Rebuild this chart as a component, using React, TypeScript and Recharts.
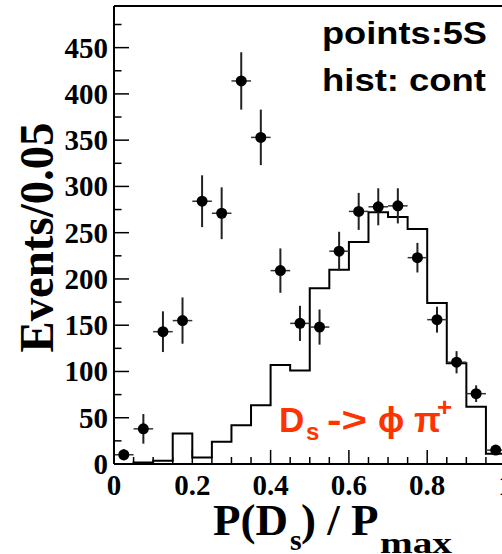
import React from "react";
import { ComposedChart, Customized, ErrorBar, Line, ReferenceLine, Scatter, XAxis, YAxis } from "recharts";

// 20 bins of width 0.05 in P(Ds)/Pmax
const binCenters = [
  0.025, 0.075, 0.125, 0.175, 0.225, 0.275, 0.325, 0.375, 0.425, 0.475,
  0.525, 0.575, 0.625, 0.675, 0.725, 0.775, 0.825, 0.875, 0.925, 0.975,
];
// 5S data points and their errors
const dataCounts = [10, 38, 143, 155, 284, 271, 414, 353, 209, 152, 148, 230, 273, 278, 279, 223, 156, 110, 76, 15];
const dataErrors = [6, 16, 22, 25, 28, 28, 31, 30, 24, 19, 19, 21, 20, 20, 19, 16, 14, 12, 9, 5];
// continuum histogram
const contHist = [0, 1.5, 3.5, 33, 7, 24, 42, 63.5, 107, 101, 190, 210, 240, 272, 267, 254, 174, 109, 62, 11];

const binWidth = 0.05;
const yMax = 495;
const yTicks = [0, 25, 50, 75, 100, 125, 150, 175, 200, 225, 250, 275, 300, 325, 350, 375, 400, 425, 450, 475];
const xTicks = [0, 0.05, 0.1, 0.15, 0.2, 0.25, 0.3, 0.35, 0.4, 0.45, 0.5, 0.55, 0.6, 0.65, 0.7, 0.75, 0.8, 0.85, 0.9, 0.95, 1];
const xLabeled = [0, 0.2, 0.4, 0.6, 0.8, 1];

const points = binCenters.map((x, i) => ({ x, y: dataCounts[i], ey: dataErrors[i], ex: binWidth / 2 }));
const histSteps = [
  ...binCenters.map((c, i) => ({ x: +(c - binWidth / 2).toFixed(3), y: contHist[i] })),
  { x: 1, y: contHist[contHist.length - 1] },
];

const serifBold = { fontFamily: "'Liberation Serif', 'Times New Roman', serif", fontWeight: 700, fill: "#000" };
const sansBold = { fontFamily: "'Liberation Sans', Arial, sans-serif", fontWeight: 700 };
const red = "#ff3300";

// ticks point inwards; tickSize/tickMargin are 0 so x,y sit on the axis line
const YTick = ({ x, y, payload }: any) => {
  const major = payload.value % 50 === 0;
  return (
    <g>
      <line x1={x} x2={x + (major ? 15 : 7.5)} y1={y} y2={y} stroke="#000" strokeWidth={1.5} />
      {major && (
        <text x={x - 6} y={y + 10} textAnchor="end" fontSize={29} style={serifBold}>
          {payload.value}
        </text>
      )}
    </g>
  );
};

const XTick = ({ x, y, payload }: any) => {
  const major = xLabeled.some((m) => Math.abs(m - payload.value) < 1e-6);
  return (
    <g>
      <line x1={x} x2={x} y1={y} y2={y - (major ? 14 : 7)} stroke="#000" strokeWidth={1.5} />
      {major && (
        <text x={x} y={y + 30.5} textAnchor="middle" fontSize={29} style={serifBold}>
          {String(payload.value)}
        </text>
      )}
    </g>
  );
};

const Dot = ({ cx, cy }: any) => <circle cx={cx} cy={cy} r={5.5} fill="#000" />;

const Annotations = () => (
  <g>
    {/* axis titles */}
    <text
      x={53}
      y={237.5}
      transform="rotate(-90, 53, 237.5)"
      textAnchor="middle"
      fontSize={48}
      textLength={230}
      lengthAdjust="spacingAndGlyphs"
      style={serifBold}
    >
      Events/0.05
    </text>
    <text x={213} y={535} fontSize={45} style={serifBold}>P(D</text>
    <text x={290} y={550} fontSize={30} style={serifBold}>s</text>
    <text x={301} y={535} fontSize={45} style={serifBold} xmlSpace="preserve">) / P</text>
    <text x={380} y={553} fontSize={30} textLength={72} lengthAdjust="spacingAndGlyphs" style={serifBold}>max</text>

    {/* legend text */}
    <text x={322} y={44} fontSize={31} textLength={165} lengthAdjust="spacingAndGlyphs" style={sansBold} fill="#000">
      points:5S
    </text>
    <text x={322} y={91} fontSize={31} textLength={164} lengthAdjust="spacingAndGlyphs" style={sansBold} fill="#000">
      hist: cont
    </text>

    {/* decay channel */}
    <g style={sansBold} fill={red}>
      <text x={279} y={432} fontSize={35}>D</text>
      <text x={306} y={440} fontSize={24}>s</text>
      <text x={327} y={432} fontSize={35} textLength={40} lengthAdjust="spacingAndGlyphs">-&gt;</text>
      <text x={378} y={432} fontSize={35}>ϕ</text>
      <text x={414} y={432} fontSize={35}>π</text>
      <text x={437} y={416} fontSize={26}>+</text>
    </g>
  </g>
);

export default function App() {
  return (
    <div style={{ position: "absolute", left: 0, top: 0, width: 502, height: 554, overflow: "hidden", background: "#fff" }}>
      <ComposedChart width={510} height={554} margin={{ top: 6, right: 4.5, bottom: 89, left: 113 }}>
        <XAxis
          type="number"
          dataKey="x"
          domain={[0, 1]}
          ticks={xTicks}
          interval={0}
          allowDataOverflow
          height={1}
          tickSize={0}
          tickMargin={0}
          tickLine={false}
          axisLine={{ stroke: "#000", strokeWidth: 2 }}
          tick={<XTick />}
        />
        <YAxis
          type="number"
          dataKey="y"
          domain={[0, yMax]}
          ticks={yTicks}
          interval={0}
          allowDataOverflow
          width={1}
          tickSize={0}
          tickMargin={0}
          tickLine={false}
          axisLine={{ stroke: "#000", strokeWidth: 2 }}
          tick={<YTick />}
        />
        <ReferenceLine y={yMax} stroke="#000" strokeWidth={2} ifOverflow="visible" />
        <ReferenceLine x={1} stroke="#000" strokeWidth={2} ifOverflow="visible" />
        <Line
          data={histSteps}
          dataKey="y"
          type="stepAfter"
          stroke="#000"
          strokeWidth={2}
          dot={false}
          isAnimationActive={false}
        />
        <Scatter data={points} dataKey="y" shape={<Dot />} isAnimationActive={false}>
          <ErrorBar dataKey="ey" direction="y" width={0} stroke="#222" strokeWidth={2} isAnimationActive={false} />
          <ErrorBar dataKey="ex" direction="x" width={0} stroke="#333" strokeWidth={1.5} isAnimationActive={false} />
        </Scatter>
        <Customized component={Annotations} />
      </ComposedChart>
    </div>
  );
}
